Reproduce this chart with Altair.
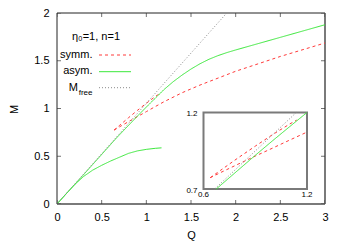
import altair as alt
import pandas as pd

FONT = "Liberation Sans"
RED = "#ff3a3a"
GREEN = "#3be83b"
GRAY = "#8a8a8a"

# ---- data ----
x_ticks = [0, 0.5, 1, 1.5, 2, 2.5, 3]
y_ticks = [0, 0.5, 1, 1.5, 2]

inset_q = [0.6, 1.2]
inset_m = [0.7, 1.2]

mfree_q = [0, 0.665, 1.138, 1.9]
mfree_m = [0, 0.70, 1.20, 2.0]

asym_up_q = [0, 0.3, 0.674, 0.9, 1.0, 1.1, 1.2, 1.3, 1.4, 1.5, 1.6, 1.7, 1.8, 1.9, 2.0, 2.5, 3.0]
asym_up_m = [0, 0.31, 0.70, 0.92, 1.015, 1.108, 1.20, 1.28, 1.35, 1.413, 1.468, 1.515, 1.553, 1.585, 1.613, 1.745, 1.877]

asym_lo_q = [0, 0.1, 0.2, 0.3, 0.4, 0.5, 0.6, 0.7, 0.8, 0.9, 1.0, 1.1, 1.17]
asym_lo_m = [0, 0.105, 0.205, 0.29, 0.355, 0.405, 0.45, 0.49, 0.53, 0.556, 0.572, 0.583, 0.588]

symm_lo_q = [0.639, 0.7, 0.8, 0.9, 1.0, 1.1, 1.2, 1.4, 1.6, 2.0, 2.5, 3.0]
symm_lo_m = [0.774, 0.808, 0.862, 0.915, 0.967, 1.02, 1.072, 1.165, 1.245, 1.39, 1.545, 1.686]

symm_up_q = [0.639, 0.7, 0.8, 0.9, 1.0, 1.1, 1.14]
symm_up_m = [0.774, 0.823, 0.903, 0.98, 1.055, 1.125, 1.15]


def frame(q, m, branch):
    return pd.DataFrame({"Q": q, "M": m, "branch": branch})


symm_df = pd.concat([frame(symm_lo_q, symm_lo_m, "lo"), frame(symm_up_q, symm_up_m, "up")])
asym_df = pd.concat([frame(asym_up_q, asym_up_m, "up"), frame(asym_lo_q, asym_lo_m, "lo")])
mfree_df = frame(mfree_q, mfree_m, "one")


def in_inset(df):
    e = 1e-9
    return df[(df.Q >= inset_q[0] - e) & (df.Q <= inset_q[1] + e)
              & (df.M >= inset_m[0] - e) & (df.M <= inset_m[1] + e)]


# ---- main scales / axes ----
xs = alt.Scale(domain=[0, 3], nice=False, zero=False)
ys = alt.Scale(domain=[0, 2], nice=False, zero=False)
xax = alt.Axis(values=x_ticks, format="~g", domain=False, ticks=False, grid=False,
               labelFont=FONT, labelFontSize=11, labelColor="black", labelPadding=7,
               labelFlush=False, labelOverlap=False,
               title="Q", titleFont=FONT, titleFontSize=11, titleFontWeight="normal",
               titleColor="black", titleX=134, titleY=34, titleAlign="center",
               titleBaseline="alphabetic")
yax = alt.Axis(values=y_ticks, format="~g", domain=False, ticks=False, grid=False,
               labelFont=FONT, labelFontSize=11, labelColor="black", labelPadding=8,
               labelFlush=False, labelOverlap=False,
               title="M", titleFont=FONT, titleFontSize=11, titleFontWeight="normal",
               titleColor="black", titleX=-40, titleY=96, titleAngle=270,
               titleAlign="center", titleBaseline="alphabetic")


def X(f="Q"):
    return alt.X(f"{f}:Q", scale=xs, axis=xax)


def Y(f="M"):
    return alt.Y(f"{f}:Q", scale=ys, axis=yax)


def XD(v):
    return alt.XDatum(v, type="quantitative", scale=xs, axis=xax)


def YD(v):
    return alt.YDatum(v, type="quantitative", scale=ys, axis=yax)


def line(df, color, dash, xe=X, ye=Y):
    return alt.Chart(df).mark_line(color=color, strokeWidth=1, strokeDash=dash, clip=True).encode(
        x=xe(), y=ye(), detail="branch:N", order="Q:Q")


main_lines = [
    line(symm_df[symm_df.branch == "lo"], RED, [3, 3]),
    line(symm_df[symm_df.branch == "up"], RED, [3, 3]),
    line(asym_df, GREEN, [1, 0]),
    line(mfree_df, GRAY, [1, 2]),
]

xt = pd.DataFrame({"t": x_ticks})
yt = pd.DataFrame({"t": y_ticks})
TICK = "#333333"
ticks = [
    alt.Chart(xt).mark_tick(orient="vertical", size=8, thickness=1, color=TICK, clip=True).encode(
        x=X("t"), y=YD(0)),
    alt.Chart(xt).mark_tick(orient="vertical", size=8, thickness=1, color=TICK, clip=True).encode(
        x=X("t"), y=YD(2)),
    alt.Chart(yt).mark_tick(orient="horizontal", size=8, thickness=1, color=TICK, clip=True).encode(
        y=Y("t"), x=XD(0)),
    alt.Chart(yt).mark_tick(orient="horizontal", size=8, thickness=1, color=TICK, clip=True).encode(
        y=Y("t"), x=XD(3)),
]

one = pd.DataFrame({"a": [0]})
borders = [
    alt.Chart(one).mark_rule(color="#222222", strokeWidth=1).encode(y=YD(2)),
    alt.Chart(one).mark_rule(color="#222222", strokeWidth=1).encode(x=XD(0)),
    alt.Chart(one).mark_rule(color="#7a7a7a", strokeWidth=2).encode(y=YD(0)),
    alt.Chart(one).mark_rule(color="#7a7a7a", strokeWidth=2).encode(x=XD(3)),
]

# ---- legend (gnuplot style: label left, sample right) ----
LX = 35.5


def ltext(txt, x, y, align="right", size=11):
    return alt.Chart(one).mark_text(text=txt, font=FONT, fontSize=size, color="black",
                                    align=align, baseline="middle").encode(
        x=alt.value(x), y=alt.value(y))


def lsample(y, color, dash):
    return alt.Chart(one).mark_rule(color=color, strokeWidth=1, strokeDash=dash).encode(
        x=alt.value(42), x2=alt.value(74), y=alt.value(y))


legend = [
    ltext("η₀=1, n=1", 15, 24, align="left"),
    ltext("symm.", LX, 41.5),
    lsample(42, RED, [3, 3]),
    ltext("asym.", LX, 58),
    lsample(58.7, GREEN, [1, 0]),
    ltext("M", 21, 75),
    ltext("free", LX, 79.5, size=8),
    lsample(74.7, GRAY, [1, 2]),
]

main = alt.layer(*borders, *main_lines, *ticks, *legend)

# ---- inset ----
sx = alt.Scale(domain=inset_q, range=[146.5, 250], nice=False, zero=False)
sy = alt.Scale(domain=inset_m, range=[176, 99.5], nice=False, zero=False)


def IX(f="Q"):
    return alt.X(f"{f}:Q", scale=sx, axis=None)


def IY(f="M"):
    return alt.Y(f"{f}:Q", scale=sy, axis=None)


box = pd.DataFrame({"q0": [inset_q[0]], "q1": [inset_q[1]], "m0": [inset_m[0]], "m1": [inset_m[1]]})
inset_box = alt.Chart(box).mark_rect(fill="white", stroke="#7a7a7a", strokeWidth=2).encode(
    x=IX("q0"), x2="q1:Q", y=IY("m0"), y2="m1:Q")

inset_lines = [
    line(in_inset(symm_df[symm_df.branch == "lo"]), RED, [3, 3], IX, IY),
    line(in_inset(symm_df[symm_df.branch == "up"]), RED, [3, 3], IX, IY),
    line(in_inset(asym_df), GREEN, [1, 0], IX, IY),
    line(in_inset(mfree_df), GRAY, [1, 2], IX, IY),
]

ylab = pd.DataFrame({"M": inset_m, "Q": [inset_q[0]] * 2})
xlab = pd.DataFrame({"Q": inset_q, "M": [inset_m[0]] * 2})
inset_labels = [
    alt.Chart(ylab).mark_text(font=FONT, fontSize=8, color="black", align="right",
                              baseline="middle", dx=-6, dy=1.5).encode(
        x=IX(), y=IY(), text=alt.Text("M:Q", format="~g")),
    alt.Chart(xlab).mark_text(font=FONT, fontSize=8, color="black", align="center",
                              baseline="top", dy=2).encode(
        x=IX(), y=IY(), text=alt.Text("Q:Q", format="~g")),
]

inset = alt.layer(inset_box, *inset_lines, *inset_labels)

chart = alt.layer(main, inset).resolve_scale(x="independent", y="independent").properties(
    width=268, height=191,
    autosize=alt.AutoSizeParams(type="none"),
    padding={"left": 49, "top": 5, "right": 13, "bottom": 38},
    background="white",
).configure_view(stroke=None)

chart.save("out.html", embed_options={"renderer": "svg", "actions": False})
